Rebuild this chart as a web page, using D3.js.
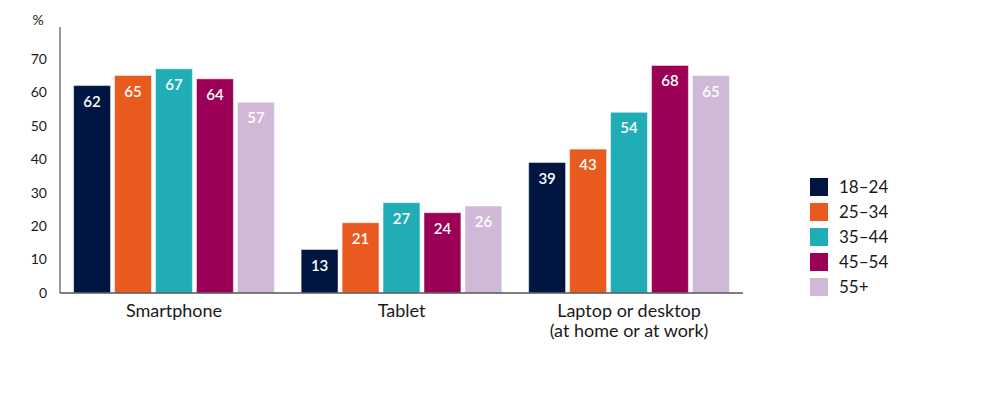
<!DOCTYPE html>
<html>
<head>
<meta charset="utf-8">
<script src="https://cdn.jsdelivr.net/npm/d3@7"></script>
<style>
  body { margin: 0; background: #fff; }
  svg { display: block; }
  text { font-family: Lato, 'Open Sans', sans-serif; }
</style>
</head>
<body>
<svg id="chart" width="1004" height="396"></svg>
<script>
const categories = ['Smartphone', 'Tablet', 'Laptop or desktop\n(at home or at work)']
const ageGroups = ['18–24', '25–34', '35–44', '45–54', '55+']
const values = [
  [62, 65, 67, 64, 57],
  [13, 21, 27, 24, 26],
  [39, 43, 54, 68, 65]
]
const yTicks = [0, 10, 20, 30, 40, 50, 60, 70]
const palette = ['#001641', '#e95a1e', '#20adb5', '#9b0056', '#cfb9d6']

const svg = d3.select('#chart')
const margin = { top: 27, left: 60, right: 261, bottom: 103 }
const width = 1004 - margin.left - margin.right
const height = 396 - margin.top - margin.bottom

const g = svg.append('g').attr('transform', 'translate(' + margin.left + ',' + margin.top + ')')

const x0 = d3.scaleBand().domain(categories).range([0, width]).paddingInner(0.118).paddingOuter(0.06)
const x1 = d3.scaleBand().domain(ageGroups).range([0, x0.bandwidth()]).paddingInner(0.1)
const y = d3.scaleLinear().domain([0, 79.5]).range([height, 0])
const color = d3.scaleOrdinal().domain(ageGroups).range(palette)

// y tick labels
g.selectAll('.ytick')
  .data(yTicks)
  .enter()
  .append('text')
  .attr('class', 'ytick')
  .attr('x', -13)
  .attr('y', (d) => y(d))
  .attr('dy', '0.35em')
  .attr('text-anchor', 'end')
  .attr('font-size', 14)
  .attr('fill', '#1a1a1a')
  .text((d) => d)

g.append('text')
  .attr('x', -22)
  .attr('y', -2)
  .attr('text-anchor', 'middle')
  .attr('font-size', 14)
  .attr('fill', '#1a1a1a')
  .text('%')

// bars
const groups = g.selectAll('.group')
  .data(categories)
  .enter()
  .append('g')
  .attr('class', 'group')
  .attr('transform', (d) => 'translate(' + x0(d) + ',0)')

const rows = groups.selectAll('.bar')
  .data((d, i) => ageGroups.map((a, j) => ({ age: a, value: values[i][j] })))
  .enter()

rows.append('rect')
  .attr('class', 'bar')
  .attr('x', (d) => x1(d.age))
  .attr('y', (d) => y(d.value))
  .attr('width', x1.bandwidth())
  .attr('height', (d) => height - y(d.value))
  .attr('fill', (d) => color(d.age))
  .attr('stroke', 'rgba(255,255,255,0.45)')
  .attr('stroke-width', 1)

rows.append('text')
  .attr('x', (d) => x1(d.age) + x1.bandwidth() / 2)
  .attr('y', (d) => y(d.value) + 21)
  .attr('text-anchor', 'middle')
  .attr('font-size', 15)
  .attr('font-weight', 600)
  .attr('fill', '#fff')
  .text((d) => d.value)

// axes lines
g.append('line')
  .attr('x1', 0).attr('x2', 0)
  .attr('y1', 0).attr('y2', height)
  .attr('stroke', '#555').attr('stroke-width', 1.2)

g.append('line')
  .attr('x1', 0).attr('x2', width)
  .attr('y1', height).attr('y2', height)
  .attr('stroke', '#555').attr('stroke-width', 1.5)

// category labels
g.selectAll('.xlabel')
  .data(categories)
  .enter()
  .append('text')
  .attr('class', 'xlabel')
  .attr('x', (d) => x0(d) + x0.bandwidth() / 2)
  .attr('y', height + 24)
  .attr('text-anchor', 'middle')
  .attr('font-size', 18)
  .attr('fill', '#1a1a1a')
  .selectAll('tspan')
  .data((d) => d.split('\n'))
  .enter()
  .append('tspan')
  .attr('x', function () { return d3.select(this.parentNode).attr('x') })
  .attr('dy', (d, i) => (i === 0 ? 0 : 20))
  .text((d) => d)

// legend
const legend = svg.append('g').attr('transform', 'translate(810,178)')
const item = legend.selectAll('.item')
  .data(ageGroups)
  .enter()
  .append('g')
  .attr('class', 'item')
  .attr('transform', (d, i) => 'translate(0,' + i * 25 + ')')

item.append('rect')
  .attr('width', 18)
  .attr('height', 18)
  .attr('fill', (d) => color(d))

item.append('text')
  .attr('x', 29)
  .attr('y', 9)
  .attr('dy', '0.36em')
  .attr('font-size', 17)
  .attr('fill', '#1a1a1a')
  .text((d) => d)
</script>
</body>
</html>
